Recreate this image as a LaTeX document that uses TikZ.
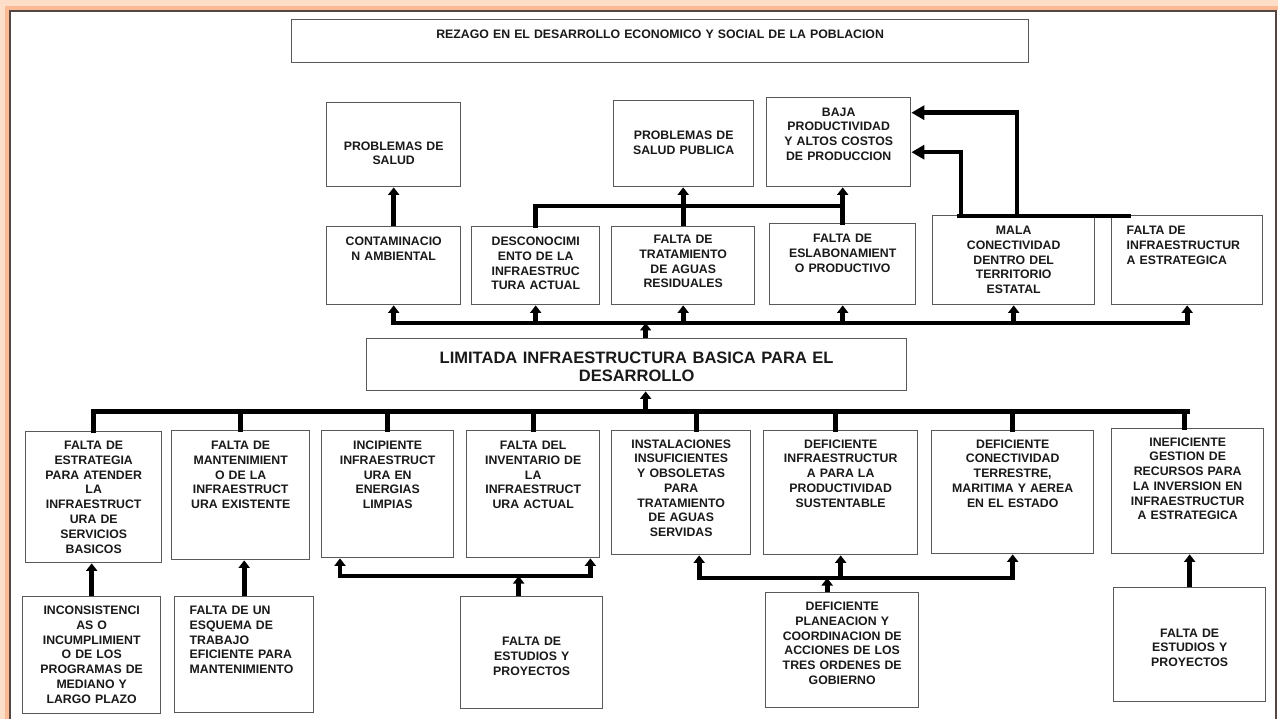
\documentclass[tikz,border=0pt]{standalone}
\usepackage{fontspec}
\setmainfont{Liberation Sans}
\usepackage{tikz}
\usetikzlibrary{arrows.meta,calc}

\definecolor{borde}{RGB}{85,70,65}
\definecolor{brillo}{RGB}{253,222,200}
\definecolor{brillob}{RGB}{249,186,148}

\tikzset{
    caja/.style={draw=black!65, line width=0.8pt, inner sep=0pt, anchor=north west, align=center,
        text=black!90, font=\bfseries\fontsize{7}{8.4}\selectfont},
    tam/.style n args={3}{text width=#1, text height=#2, text depth=#3},
    linea/.style={line width=2.8pt, line cap=rect, line join=miter},
    flecha/.style={line width=2.8pt, line join=miter, -{Triangle[width=2.2mm,length=1.5mm]}},
    flechag/.style={line width=2.6pt, line join=miter, -{Triangle[width=2.8mm,length=2.6mm]}}
}

\begin{document}
\begin{tikzpicture}[x=0.02cm, y=-0.02cm]
    \useasboundingbox (0,0) rectangle (1278,719);
    \draw[brillo, line width=0.2cm] (4,740) -- (4,4) -- (1300,4);
    \draw[brillob, line width=0.08cm] (7,740) -- (7,8) -- (1300,8);
    \draw[borde, line width=0.04cm] (10,740) -- (10,11) -- (1276,11) -- (1276,740);

    \node[caja, tam={147.4mm}{3.7mm}{4.9mm}] (rezago) at (291,19) {REZAGO EN EL DESARROLLO ECONOMICO Y SOCIAL DE LA POBLACION};

    \node[caja, tam={26.8mm}{9.5mm}{7.3mm}] (salud) at (326,102) {PROBLEMAS DE\\SALUD};
    \node[caja, tam={28mm}{7.8mm}{9.4mm}] (saludpub) at (613,100) {PROBLEMAS DE\\SALUD PUBLICA};
    \node[caja, tam={28.8mm}{3.7mm}{14.1mm}] (baja) at (766,97) {BAJA\\PRODUCTIVIDAD\\Y ALTOS COSTOS\\DE PRODUCCION};

    \node[caja, tam={26.8mm}{3.8mm}{11.8mm}] (contam) at (326,226) {CONTAMINACIO\\N AMBIENTAL};
    \node[caja, tam={25.6mm}{3.8mm}{11.8mm}] (descon) at (471,226) {DESCONOCIMI\\ENTO DE LA\\INFRAESTRUC\\TURA ACTUAL};
    \node[caja, tam={28.6mm}{3.4mm}{12.2mm}] (trat) at (611,226) {FALTA DE\\TRATAMIENTO\\DE AGUAS\\RESIDUALES};
    \node[caja, tam={29.2mm}{3.8mm}{12.4mm}] (eslab) at (769,223) {FALTA DE\\ESLABONAMIENT\\O PRODUCTIVO};
    \node[caja, tam={32.4mm}{3.8mm}{14mm}] (mala) at (932,215) {MALA\\CONECTIVIDAD\\DENTRO DEL\\TERRITORIO\\ESTATAL};
    \node[caja, align=left, inner xsep=3mm, tam={24.2mm}{3.8mm}{14mm}] (faltainfra) at (1111,215) {FALTA DE\\INFRAESTRUCTUR\\A ESTRATEGICA};

    \node[caja, font=\bfseries\fontsize{9.4}{10.4}\selectfont, tam={108mm}{4.9mm}{5.5mm}] (limitada) at (366,338) {LIMITADA INFRAESTRUCTURA BASICA PARA EL\\DESARROLLO};

    \node[caja, tam={27.2mm}{3.6mm}{22.6mm}] (b1) at (25,431) {FALTA DE\\ESTRATEGIA\\PARA ATENDER\\LA\\INFRAESTRUCT\\URA DE\\SERVICIOS\\BASICOS};
    \node[caja, tam={27.6mm}{3.8mm}{22mm}] (b2) at (171,430) {FALTA DE\\MANTENIMIENT\\O DE LA\\INFRAESTRUCT\\URA EXISTENTE};
    \node[caja, tam={26.4mm}{3.8mm}{21.6mm}] (b3) at (321,430) {INCIPIENTE\\INFRAESTRUCT\\URA EN\\ENERGIAS\\LIMPIAS};
    \node[caja, tam={26.6mm}{3.8mm}{21.6mm}] (b4) at (466,430) {FALTA DEL\\INVENTARIO DE\\LA\\INFRAESTRUCT\\URA ACTUAL};
    \node[caja, tam={27.8mm}{3.5mm}{21.3mm}] (b5) at (611,430) {INSTALACIONES\\INSUFICIENTES\\Y OBSOLETAS\\PARA\\TRATAMIENTO\\DE AGUAS\\SERVIDAS};
    \node[caja, tam={30.8mm}{3.5mm}{21.3mm}] (b6) at (763,430) {DEFICIENTE\\INFRAESTRUCTUR\\A PARA LA\\PRODUCTIVIDAD\\SUSTENTABLE};
    \node[caja, tam={32.4mm}{3.5mm}{21.1mm}] (b7) at (931,430) {DEFICIENTE\\CONECTIVIDAD\\TERRESTRE,\\MARITIMA Y AEREA\\EN EL ESTADO};
    \node[caja, tam={30.4mm}{3.5mm}{21.5mm}] (b8) at (1111,428) {INEFICIENTE\\GESTION DE\\RECURSOS PARA\\LA INVERSION EN\\INFRAESTRUCTUR\\A ESTRATEGICA};

    \node[caja, tam={27.6mm}{3.6mm}{19.8mm}] (c1) at (22,596) {INCONSISTENCI\\AS O\\INCUMPLIMIENT\\O DE LOS\\PROGRAMAS DE\\MEDIANO Y\\LARGO PLAZO};
    \node[caja, align=left, inner xsep=3mm, tam={21.8mm}{3.6mm}{19.6mm}] (c2) at (174,596) {FALTA DE UN\\ESQUEMA DE\\TRABAJO\\EFICIENTE PARA\\MANTENIMIENTO};
    \node[caja, tam={28.4mm}{9.8mm}{12.6mm}] (c3) at (460,596) {FALTA DE\\ESTUDIOS Y\\PROYECTOS};
    \node[caja, tam={30.6mm}{3.6mm}{19.4mm}] (c4) at (765,592) {DEFICIENTE\\PLANEACION Y\\COORDINACION DE\\ACCIONES DE LOS\\TRES ORDENES DE\\GOBIERNO};
    \node[caja, tam={30.4mm}{9.9mm}{12.9mm}] (c5) at (1113,587) {FALTA DE\\ESTUDIOS Y\\PROYECTOS};

    \draw[flecha] (contam.north) -- (salud.south);
    \draw[linea] (descon.north) -- ++(0,-20) -| (eslab.north);
    \draw[flecha] (trat.north) -- (trat.north |- saludpub.south);
    \draw[flecha] (eslab.north) -- (eslab.north |- baja.south);
    \draw[linea] ($(mala.north west)+(27,1)$) -- ($(faltainfra.north west)+(18,1)$);
    \draw[flechag] ($(mala.north west)+(29,1)$) |- ($(baja.east)+(0,10)$);
    \draw[flechag] ($(mala.north west)+(85,1)$) |- ($(baja.east)+(0,-29.5)$);

    \draw[flecha] ($(limitada.north)+(9,0)$) -- ++(0,-15) coordinate (bus1);
    \draw[linea] (contam.south |- bus1) -- (faltainfra.south |- bus1);
    \foreach \n in {contam,descon,trat,eslab,mala,faltainfra}
        \draw[flecha] (\n.south |- bus1) -- (\n.south);

    \coordinate (bus2) at ($(limitada.south)+(9,20)$);
    \draw[flecha] (bus2) -- (bus2 |- limitada.south);
    \draw[linea] (b1.north |- bus2) -- (b8.north |- bus2);
    \foreach \n/\d in {b1/0,b2/0,b3/0,b4/0,b5/15,b6/-5,b7/0,b8/-3}
        \draw[linea] ($(\n.north)+(\d,0)$) -- ($(\n.north |- bus2)+(\d,0)$);

    \draw[flecha] (c1.north) -- (c1.north |- b1.south);
    \draw[flecha] (c2.north) -- (c2.north |- b2.south);
    \draw[flecha] ($(c3.north)+(-13,0)$) -- ++(0,-20) coordinate (bus3);
    \draw[flecha] (bus3) -| ($(b3.south west)+(19,0)$);
    \draw[flecha] (bus3) -| ($(b4.south east)+(-10,0)$);
    \draw[flecha] ($(c4.north)+(-15,0)$) -- ++(0,-14) coordinate (bus4);
    \draw[flecha] (bus4) -| ($(b5.south)+(18,0)$);
    \draw[flecha] (bus4) -| (b6.south);
    \draw[flecha] (bus4) -| (b7.south);
    \draw[flecha] (c5.north) -- (c5.north |- b8.south);
\end{tikzpicture}
\end{document}
